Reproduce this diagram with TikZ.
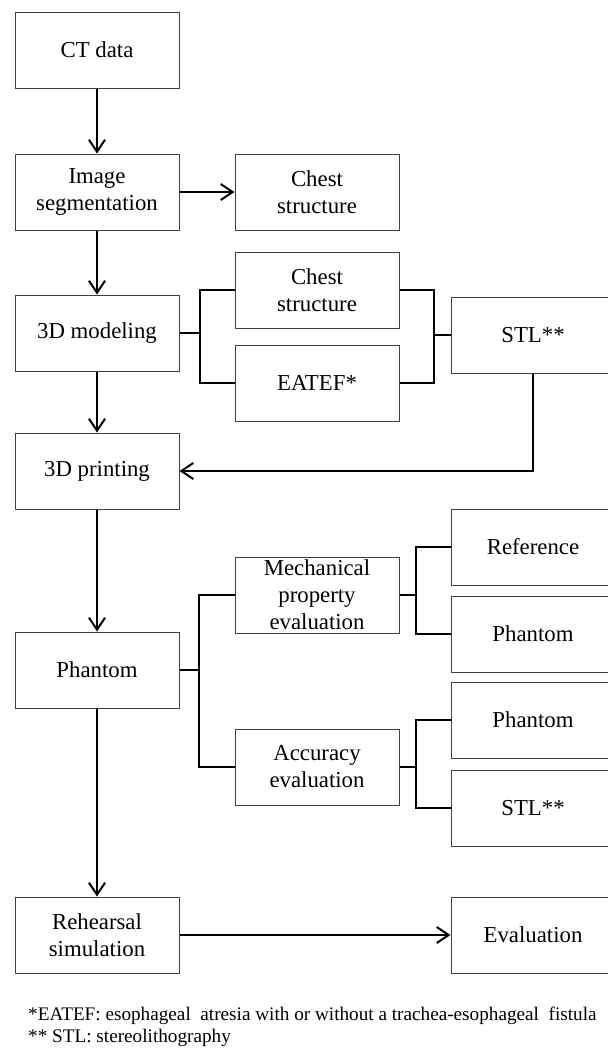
\documentclass[tikz,border=0pt]{standalone}
\usepackage{fontspec}
\setmainfont{Liberation Serif}
\usetikzlibrary{arrows.meta}
\tikzset{
  blk/.style={draw=black!75, line width=1pt, minimum width=164pt, minimum height=76pt,
              inner sep=0pt, align=center, font=\fontsize{22.8}{27}\selectfont},
  link/.style={line width=2pt},
  flow/.style={link, -{Straight Barb[length=12pt,width=16pt,line width=2pt]}}
}
\begin{document}
\begin{tikzpicture}[x=1pt, y=-1pt]
      \useasboundingbox (0,0) rectangle (608,1058);
      % main column
      \draw (97,50) node[blk] (ct) {CT data}
            (97,192) node[blk] (seg) {Image\\segmentation}
            (97,333) node[blk] (model) {3D modeling}
            (97,471) node[blk] (print) {3D printing}
            (97,670) node[blk] (phantom) {Phantom}
            (97,935) node[blk] (rehearsal) {Rehearsal\\simulation};
      % side branches
      \draw (317,192) node[blk] (chest1) {Chest\\structure}
            (317,290) node[blk] (chest2) {Chest\\structure}
            (317,383) node[blk] (eatef) {EATEF*}
            (533,335) node[blk] (stl1) {STL**}
            (317,595) node[blk] (mech) {Mechanical\\property\\evaluation}
            (317,767) node[blk] (acc) {Accuracy\\evaluation}
            (533,547) node[blk] (ref) {Reference}
            (533,634) node[blk] (phan1) {Phantom}
            (533,720) node[blk] (phan2) {Phantom}
            (533,808) node[blk] (stl2) {STL**}
            (533,935) node[blk] (eval) {Evaluation};
      % arrows
      \draw[flow] (ct) edge (seg)
                  (seg) edge (model)
                  (seg) edge (chest1)
                  (model) edge (print)
                  (print) edge (phantom)
                  (phantom) edge (rehearsal)
                  (rehearsal) edge (eval);
      \draw[flow] (stl1.south) |- (print.east);
      % brackets
      \draw[link] (chest2.west) -- ++(-35,0) |- (eatef.west)
                  (model.east) -- ++(21,0);
      \draw[link] (chest2.east) -- ++(34,0) |- (eatef.east)
                  (stl1.west) -- ++(-18,0);
      \draw[link] (mech.west) -- ++(-36,0) |- (acc.west)
                  (phantom.east) -- ++(20,0);
      \draw[link] (ref.west) -- ++(-35,0) |- (phan1.west)
                  (mech.east) -- ++(16,0);
      \draw[link] (phan2.west) -- ++(-35,0) |- (stl2.west)
                  (acc.east) -- ++(16,0);
      % footnotes
      \node[anchor=north west, align=left, inner sep=0pt, font=\fontsize{19.2}{22}\selectfont] (notes) at (28,1007)
            {*EATEF: esophageal\ \ atresia with or without a trachea-esophageal\ \ fistula\\** STL:\ stereolithography};
\end{tikzpicture}
\end{document}
